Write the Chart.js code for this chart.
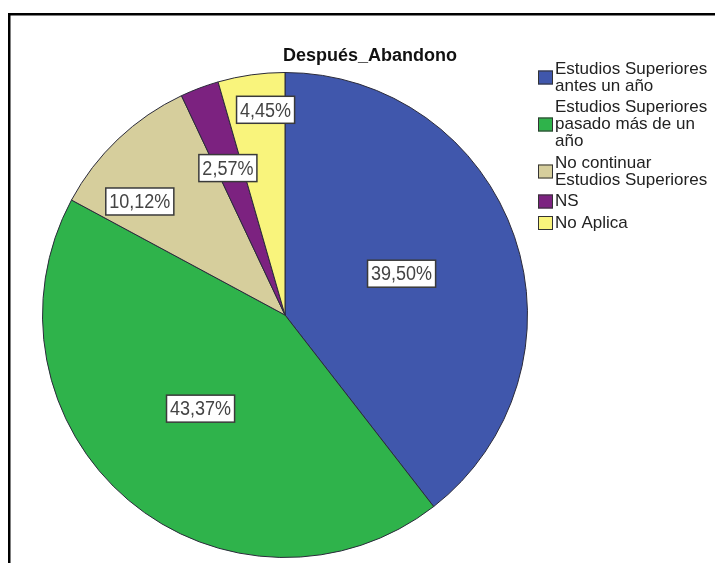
<!DOCTYPE html>
<html>
<head>
<meta charset="utf-8">
<script src="https://cdn.jsdelivr.net/npm/chart.js@4"></script>
<style>
  html, body { margin: 0; padding: 0; background: #fff; }
  #wrap { position: relative; width: 715px; height: 563px; }
</style>
</head>
<body>
<div id="wrap"><canvas id="graficoAbandono" width="715" height="563"></canvas></div>
<script>
const titulo = 'Después_Abandono';
const categorias = [
    'Estudios Superiores antes un año',
    'Estudios Superiores pasado más de un año',
    'No continuar Estudios Superiores',
    'NS',
    'No Aplica'
];
const porcentajes = [39.50, 43.37, 10.12, 2.57, 4.45];
const colores = ['#4057ac', '#2fb34b', '#d6ce9c', '#7c2280', '#f9f47c'];

// where each value label sits: fraction of radius, angle shift in degrees
const posEtiqueta = [[0.51, -0.6], [0.52, 1.8], [0.76, -8.5], [0.65, -0.6], [0.85, 2.6]];

const fmt = v => v.toFixed(2).replace('.', ',') + '%';

function envolver(ctx, texto, maxW) {
    const palabras = texto.split(' ');
    const lineas = [];
    let actual = '';
    palabras.forEach(p => {
        const prueba = actual ? actual + ' ' + p : p;
        if (actual && ctx.measureText(prueba).width > maxW) {
            lineas.push(actual);
            actual = p;
        } else {
            actual = prueba;
        }
    });
    if (actual) lineas.push(actual);
    return lineas;
}

const extras = {
    id: 'extras',
    beforeDraw(chart) {
        const ctx = chart.ctx;
        ctx.save();
        ctx.fillStyle = '#000';
        ctx.fillRect(8, 13, 715, 2.5);
        ctx.fillRect(8, 13, 2.5, 563);
        ctx.restore();
    },
    afterDraw(chart) {
        const ctx = chart.ctx;
        const meta = chart.getDatasetMeta(0);
        ctx.save();

        // title
        ctx.font = 'bold 18px "Liberation Sans", Arial, sans-serif';
        ctx.fillStyle = '#111';
        ctx.textAlign = 'center';
        ctx.textBaseline = 'middle';
        ctx.fillText(titulo, 370, 56);

        // value labels
        ctx.font = '18px "Liberation Sans", Arial, sans-serif';
        meta.data.forEach((arc, i) => {
            const p = arc.getProps(['x', 'y', 'startAngle', 'endAngle', 'outerRadius'], true);
            const mid = (p.startAngle + p.endAngle) / 2 + posEtiqueta[i][1] * Math.PI / 180;
            const r = p.outerRadius * posEtiqueta[i][0];
            const x = p.x + Math.cos(mid) * r;
            const y = p.y + Math.sin(mid) * r;
            const txt = fmt(chart.data.datasets[0].data[i]);
            const w = ctx.measureText(txt).width + 7;
            const h = 27;
            ctx.fillStyle = '#fff';
            ctx.fillRect(x - w / 2, y - h / 2, w, h);
            ctx.strokeStyle = '#3a3a3a';
            ctx.lineWidth = 1.5;
            ctx.strokeRect(x - w / 2, y - h / 2, w, h);
            ctx.fillStyle = '#444';
            ctx.save();
            ctx.translate(x, y + 1);
            ctx.scale(1, 1.15);
            ctx.fillText(txt, 0, 0);
            ctx.restore();
        });

        // legend
        ctx.font = '17px "Liberation Sans", Arial, sans-serif';
        ctx.textAlign = 'left';
        const lh = 17, gap = 4.5;
        let y = 69;
        chart.data.labels.forEach((lab, i) => {
            const lineas = envolver(ctx, lab, 156);
            const cy = y + (lineas.length - 1) * lh / 2;
            ctx.fillStyle = colores[i];
            ctx.fillRect(538, cy - 7, 15, 14);
            ctx.strokeStyle = '#333';
            ctx.lineWidth = 1;
            ctx.strokeRect(538.5, cy - 6.5, 14, 13);
            ctx.fillStyle = '#222';
            lineas.forEach((l, k) => ctx.fillText(l, 555, y + k * lh));
            y += lineas.length * lh + gap;
        });
        ctx.restore();
    }
};

const ctx = document.getElementById('graficoAbandono').getContext('2d');
const graficoAbandono = new Chart(ctx, {
    type: 'pie',

    data: {
        labels: categorias,
        datasets: [{
            label: titulo,
            data: porcentajes,
            backgroundColor: colores,
            borderColor: '#2a2a3a',
            borderWidth: 1
        }]
    },

    options: {
        responsive: false,
        animation: false,
        layout: {
            padding: { left: 40, right: 185, top: 72, bottom: 5 }
        },
        plugins: {
            legend: { display: false },
            title: { display: false },
            tooltip: { enabled: false }
        }
    },
    plugins: [extras]
});
</script>
</body>
</html>
